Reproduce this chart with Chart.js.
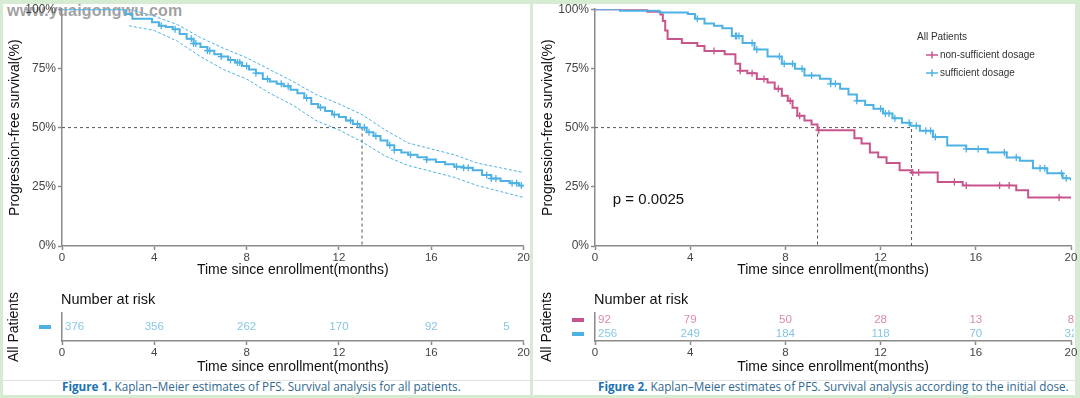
<!DOCTYPE html>
<html>
<head>
<meta charset="utf-8">
<script src="https://cdn.jsdelivr.net/npm/chart.js@4.4.1/dist/chart.umd.min.js"></script>
<style>
html,body{margin:0;padding:0}
body{width:1080px;height:398px;background:#d6ecd2;position:relative;overflow:hidden;font-family:"Liberation Sans",Arial,sans-serif}
.panel{position:absolute;background:#fff}
canvas{position:absolute}
.rule{position:absolute;height:1px;background:#e3e3e3}
.cap{position:absolute;top:378px;font:11.7px "Open Sans",sans-serif;color:#2f6890;white-space:nowrap;line-height:16px}
.cap b{color:#1b72b5}
.wm{position:absolute;left:7px;top:2px;font:bold 16px "Liberation Sans",Arial,sans-serif;color:rgba(130,130,130,0.75);letter-spacing:0.2px}
</style>
</head>
<body>
<div class="panel" style="left:3px;top:4px;width:527px;height:391px"></div>
<div class="panel" style="left:533px;top:4px;width:542px;height:391px"></div>
<div class="rule" style="left:3px;top:380px;width:527px"></div>
<div class="rule" style="left:533px;top:380px;width:542px"></div>
<div class="wm">www.yuaigongwu.com</div>

<canvas id="km1" width="531" height="280" style="left:0;top:0;width:531px;height:280px"></canvas>
<canvas id="risk1" width="531" height="96" style="left:0;top:282px;width:531px;height:96px"></canvas>
<canvas id="km2" width="547" height="280" style="left:533px;top:0;width:547px;height:280px"></canvas>
<canvas id="risk2" width="547" height="96" style="left:533px;top:282px;width:547px;height:96px"></canvas>

<div class="cap" style="left:62px"><b>Figure 1.</b> Kaplan–Meier estimates of PFS. Survival analysis for all patients.</div>
<div class="cap" style="left:598px"><b>Figure 2.</b> Kaplan–Meier estimates of PFS. Survival analysis according to the initial dose.</div>

<script>
// ---- data (months, % surviving) ----
const allTime = [0, 2.75, 3.05, 3.9, 4.2, 4.5, 4.8, 5.1, 5.4, 5.7, 6.0, 6.3, 6.6, 6.9, 7.2, 7.5, 7.8, 8.1, 8.4, 8.7, 9.0, 9.3, 9.6, 9.9, 10.2, 10.5, 10.8, 11.1, 11.4, 11.7, 12.0, 12.3, 12.6, 12.9, 13.2, 13.5, 13.8, 14.1, 14.4, 14.7, 15.0, 15.4, 15.8, 16.2, 16.6, 17.0, 17.4, 17.8, 18.2, 18.6, 19.0, 19.4, 19.8, 20];
const allSurv = [100, 98, 96, 94.5, 93, 92.5, 91.5, 89.5, 87.5, 85.5, 84, 82.5, 81, 80, 78.5, 77.5, 76, 74.5, 73, 70.5, 69.5, 68.5, 67.5, 66, 64.5, 62.5, 60, 58.5, 57, 55.5, 54.5, 53, 51.5, 50, 48, 46.5, 44.5, 42.5, 40.5, 39.5, 38.5, 37.5, 36.5, 35.5, 34.5, 33.5, 33, 32, 30, 28.5, 27.5, 26.5, 25.5, 25];
const allCensor = [4.3, 4.9, 5.6, 5.7, 5.8, 6.3, 6.4, 6.9, 7.3, 7.6, 7.7, 8.0, 8.4, 8.9, 9.5, 9.8, 10.6, 11.2, 11.8, 12.5, 12.8, 13.1, 13.3, 13.6, 14.2, 14.4, 15.1, 15.8, 17.1, 17.4, 17.6, 18.4, 18.6, 18.8, 19.5, 19.7, 19.9];
const ciTime = [2.9, 4, 5, 6, 7, 8, 9, 10, 11, 12, 13, 14, 15, 16, 17, 18, 19, 20];
const ciUpper = [100, 97, 93.5, 88, 83.5, 79.5, 74.5, 69.5, 64, 60, 55.5, 49, 43.5, 41, 38.5, 35, 33, 31];
const ciLower = [93, 91, 86.5, 80, 74.5, 70.5, 64.5, 59.5, 53, 49, 44, 38, 34, 31.5, 29, 25.5, 23, 20.5];
const allMedian = 13;

const lowTime = [0, 2.2, 2.75, 2.85, 2.95, 3.05, 3.65, 4.3, 4.6, 5.45, 5.9, 6.1, 6.4, 6.8, 7.25, 7.55, 7.85, 8.1, 8.3, 8.5, 8.8, 9.1, 9.35, 10.9, 11.2, 11.55, 11.9, 12.25, 12.8, 13.3, 14.4, 15.45, 17.7, 18.2, 20];
const lowSurv = [100, 98.9, 97.8, 95, 91, 87.4, 85.7, 84.5, 82.4, 81, 77, 74, 73, 70.5, 69, 66.4, 63.4, 61.3, 58.4, 55, 53, 51.3, 48.9, 45.5, 43.3, 39.5, 37.5, 35, 32, 31, 27, 25.6, 23.5, 20.5, 20.5];
const lowCensor = [5.0, 6.1, 6.6, 7.1, 7.7, 8.2, 8.6, 9.4, 13.35, 13.6, 15.1, 15.6, 17.0, 17.4, 19.5];

const highTime = [0, 1.05, 2.7, 3.9, 4.2, 4.6, 5.0, 5.35, 5.75, 6.2, 6.7, 7.25, 7.85, 8.4, 8.8, 9.45, 9.9, 10.3, 10.65, 11.0, 11.35, 11.7, 12.1, 12.5, 12.9, 13.25, 13.65, 14.2, 14.8, 15.6, 16.5, 17.3, 17.85, 18.4, 19.0, 19.65, 20];
const highSurv = [100, 99.3, 98.6, 98, 96, 94, 93, 92, 88.7, 85.7, 83, 80, 77, 74.8, 72, 70.6, 68.5, 66.4, 64, 61.3, 59.5, 58, 56, 54, 52, 50.8, 48.7, 46, 42.4, 41, 39.5, 37.4, 36, 32.8, 30.7, 28.6, 27.7];
const highCensor = [4.3, 5.9, 5.95, 6.05, 6.6, 6.8, 7.75, 7.95, 8.3, 8.7, 9.1, 9.9, 10.1, 11.0, 12.0, 12.2, 12.35, 12.6, 13.2, 13.5, 13.9, 14.1, 14.3, 15.6, 16.1, 17.2, 17.7, 18.7, 18.9, 19.6, 19.8];
const doseMedians = [9.35, 13.3];

const riskTimes = [0, 4, 8, 12, 16, 20];
const allRisk = [376, 356, 262, 170, 92, 5];
const lowRisk = [92, 79, 50, 28, 13, 8];
const highRisk = [256, 249, 184, 118, 70, 32];

const groupNames = ['non-sufficient dosage', 'sufficient dosage'];
const pValue = 'p = 0.0025';

// ---- helpers ----
const BLUE = '#4db2e3', PINK = '#c7558d';
const FONT = '"Liberation Sans", Arial, sans-serif';
Chart.defaults.font.family = FONT;
Chart.defaults.color = '#333';
Chart.defaults.animation = false;

const pts = (xs, ys) => xs.map((x, i) => ({x, y: ys[i]}));
function stepAt(xs, ys, t) {
  let v = ys[0];
  for (let i = 0; i < xs.length; i++) if (xs[i] <= t) v = ys[i];
  return v;
}
const censorPts = (c, xs, ys) => c.map(t => ({x: t, y: stepAt(xs, ys, t)}));

function curve(data, color) {
  return {data, borderColor: color, borderWidth: 2, stepped: true, pointRadius: 0, order: 1};
}
function marks(data, color) {
  return {data, showLine: false, pointStyle: 'cross', pointRadius: 3.5, borderColor: color, borderWidth: 1.3, order: 0};
}
function dashed(data, color, dash) {
  return {data, borderColor: color, borderWidth: 1, borderDash: dash, pointRadius: 0, order: 2};
}

const gridOpts = {drawOnChartArea: false, drawTicks: true, tickLength: 4, tickColor: '#8a8a8a', tickWidth: 1.5};
const borderOpts = {color: '#8a8a8a', width: 1.5};
function xAxis(h, padBottom) {
  return {
    type: 'linear', min: 0, max: 20,
    ticks: {stepSize: 4, font: {size: 11.5}, color: '#444', padding: 1, maxRotation: 0},
    grid: gridOpts, border: borderOpts,
    title: {display: true, text: 'Time since enrollment(months)', font: {size: 14}, color: '#111', padding: {top: 0, bottom: padBottom}},
    afterFit(s) { s.height = h; }
  };
}
const kmY = {
  min: 0, max: 100,
  ticks: {stepSize: 25, callback: v => v + '%', font: {size: 12}, color: '#444', padding: 2},
  grid: gridOpts, border: borderOpts,
  title: {display: true, text: 'Progression-free survival(%)', font: {size: 14}, color: '#111', padding: {top: 7, bottom: 0}},
  afterFit(s) { s.width = 62; }
};

function kmOptions(padRight) {
  return {
    responsive: false, devicePixelRatio: 1,
    layout: {padding: {left: 0, right: padRight, top: 8, bottom: 0}},
    plugins: {legend: {display: false}, tooltip: {enabled: false}},
    scales: {x: xAxis(34, 1), y: kmY}
  };
}

// ---- left KM ----
new Chart(document.getElementById('km1'), {
  type: 'line',
  data: {datasets: [
    dashed([{x: 0, y: 50}, {x: allMedian, y: 50}, {x: allMedian, y: 0}], '#555', [3, 3]),
    dashed(pts(ciTime, ciUpper), BLUE, [3, 2]),
    dashed(pts(ciTime, ciLower), BLUE, [3, 2]),
    curve(pts(allTime, allSurv), BLUE),
    marks(censorPts(allCensor, allTime, allSurv), BLUE)
  ]},
  options: kmOptions(6)
});

// ---- right KM ----
const legendPlugin = {
  id: 'doseLegend',
  afterDraw(chart) {
    const {ctx, scales: {x, y}} = chart;
    ctx.save();
    ctx.font = '10px ' + FONT;
    ctx.textBaseline = 'middle';
    ctx.fillStyle = '#333';
    ctx.fillText('All Patients', 384, 37);
    [PINK, BLUE].forEach((c, i) => {
      const yy = 55 + i * 18;
      ctx.strokeStyle = c; ctx.lineWidth = 1.5;
      ctx.beginPath();
      ctx.moveTo(393, yy); ctx.lineTo(405, yy);
      ctx.moveTo(399, yy - 3.5); ctx.lineTo(399, yy + 3.5);
      ctx.stroke();
      ctx.fillStyle = '#333';
      ctx.fillText(groupNames[i], 407, yy);
    });
    ctx.font = '15px ' + FONT;
    ctx.fillStyle = '#111';
    ctx.fillText(pValue, x.getPixelForValue(0.75), y.getPixelForValue(19.3));
    ctx.restore();
  }
};
new Chart(document.getElementById('km2'), {
  type: 'line',
  data: {datasets: [
    dashed([{x: 0, y: 50}, {x: doseMedians[1], y: 50}, {x: doseMedians[1], y: 0}], '#555', [3, 3]),
    dashed([{x: doseMedians[0], y: 50}, {x: doseMedians[0], y: 0}], '#555', [3, 3]),
    curve(pts(highTime, highSurv), BLUE),
    marks(censorPts(highCensor, highTime, highSurv), BLUE),
    curve(pts(lowTime, lowSurv), PINK),
    marks(censorPts(lowCensor, lowTime, lowSurv), PINK)
  ]},
  options: kmOptions(9),
  plugins: [legendPlugin]
});

// ---- risk tables ----
const riskPlugin = {
  id: 'riskText',
  afterDraw(chart, args, opts) {
    const {ctx, chartArea: a, scales: {x, y}} = chart;
    ctx.save();
    ctx.textBaseline = 'middle';
    ctx.font = '14.5px ' + FONT;
    ctx.fillStyle = '#111';
    ctx.textAlign = 'left';
    ctx.fillText('Number at risk', a.left - 1, 18);
    opts.rows.forEach((row, r) => {
      const yy = y.getPixelForValue(r);
      ctx.fillStyle = row.key;
      ctx.fillRect(39, yy - 2, 12, 4);
      ctx.save();
      ctx.beginPath();
      ctx.rect(0, 0, a.right + 3, chart.height);
      ctx.clip();
      ctx.font = '11.5px ' + FONT;
      ctx.fillStyle = row.text;
      row.values.forEach((v, i) => {
        let xx = x.getPixelForValue(riskTimes[i]);
        ctx.textAlign = 'center';
        if (i === 0) { ctx.textAlign = 'left'; xx += 3; }
        else if (i === row.values.length - 1 && opts.lastRight) { ctx.textAlign = 'right'; xx -= 14; }
        ctx.fillText(String(v), xx, yy);
      });
      ctx.restore();
    });
    ctx.restore();
  }
};
function riskOptions(padRight, labels, rows, lastRight) {
  return {
    responsive: false, devicePixelRatio: 1,
    layout: {padding: {left: 0, right: padRight, top: 31, bottom: 0}},
    plugins: {legend: {display: false}, tooltip: {enabled: false}, riskText: {rows, lastRight}},
    scales: {
      x: xAxis(37, 2),
      y: {
        type: 'category', labels, offset: true,
        ticks: {display: false},
        grid: {drawOnChartArea: false, drawTicks: false},
        border: borderOpts,
        title: {display: true, text: 'All Patients', font: {size: 14}, color: '#111', padding: {top: 6, bottom: 0}},
        afterFit(s) { s.width = 62; }
      }
    }
  };
}
new Chart(document.getElementById('risk1'), {
  type: 'scatter',
  data: {datasets: []},
  options: riskOptions(6, ['All'], [{values: allRisk, key: BLUE, text: '#86c6e6'}], true),
  plugins: [riskPlugin]
});
new Chart(document.getElementById('risk2'), {
  type: 'scatter',
  data: {datasets: []},
  options: riskOptions(9, groupNames, [
    {values: lowRisk, key: PINK, text: '#d98ab2'},
    {values: highRisk, key: BLUE, text: '#86c6e6'}
  ], false),
  plugins: [riskPlugin]
});
</script>
</body>
</html>
